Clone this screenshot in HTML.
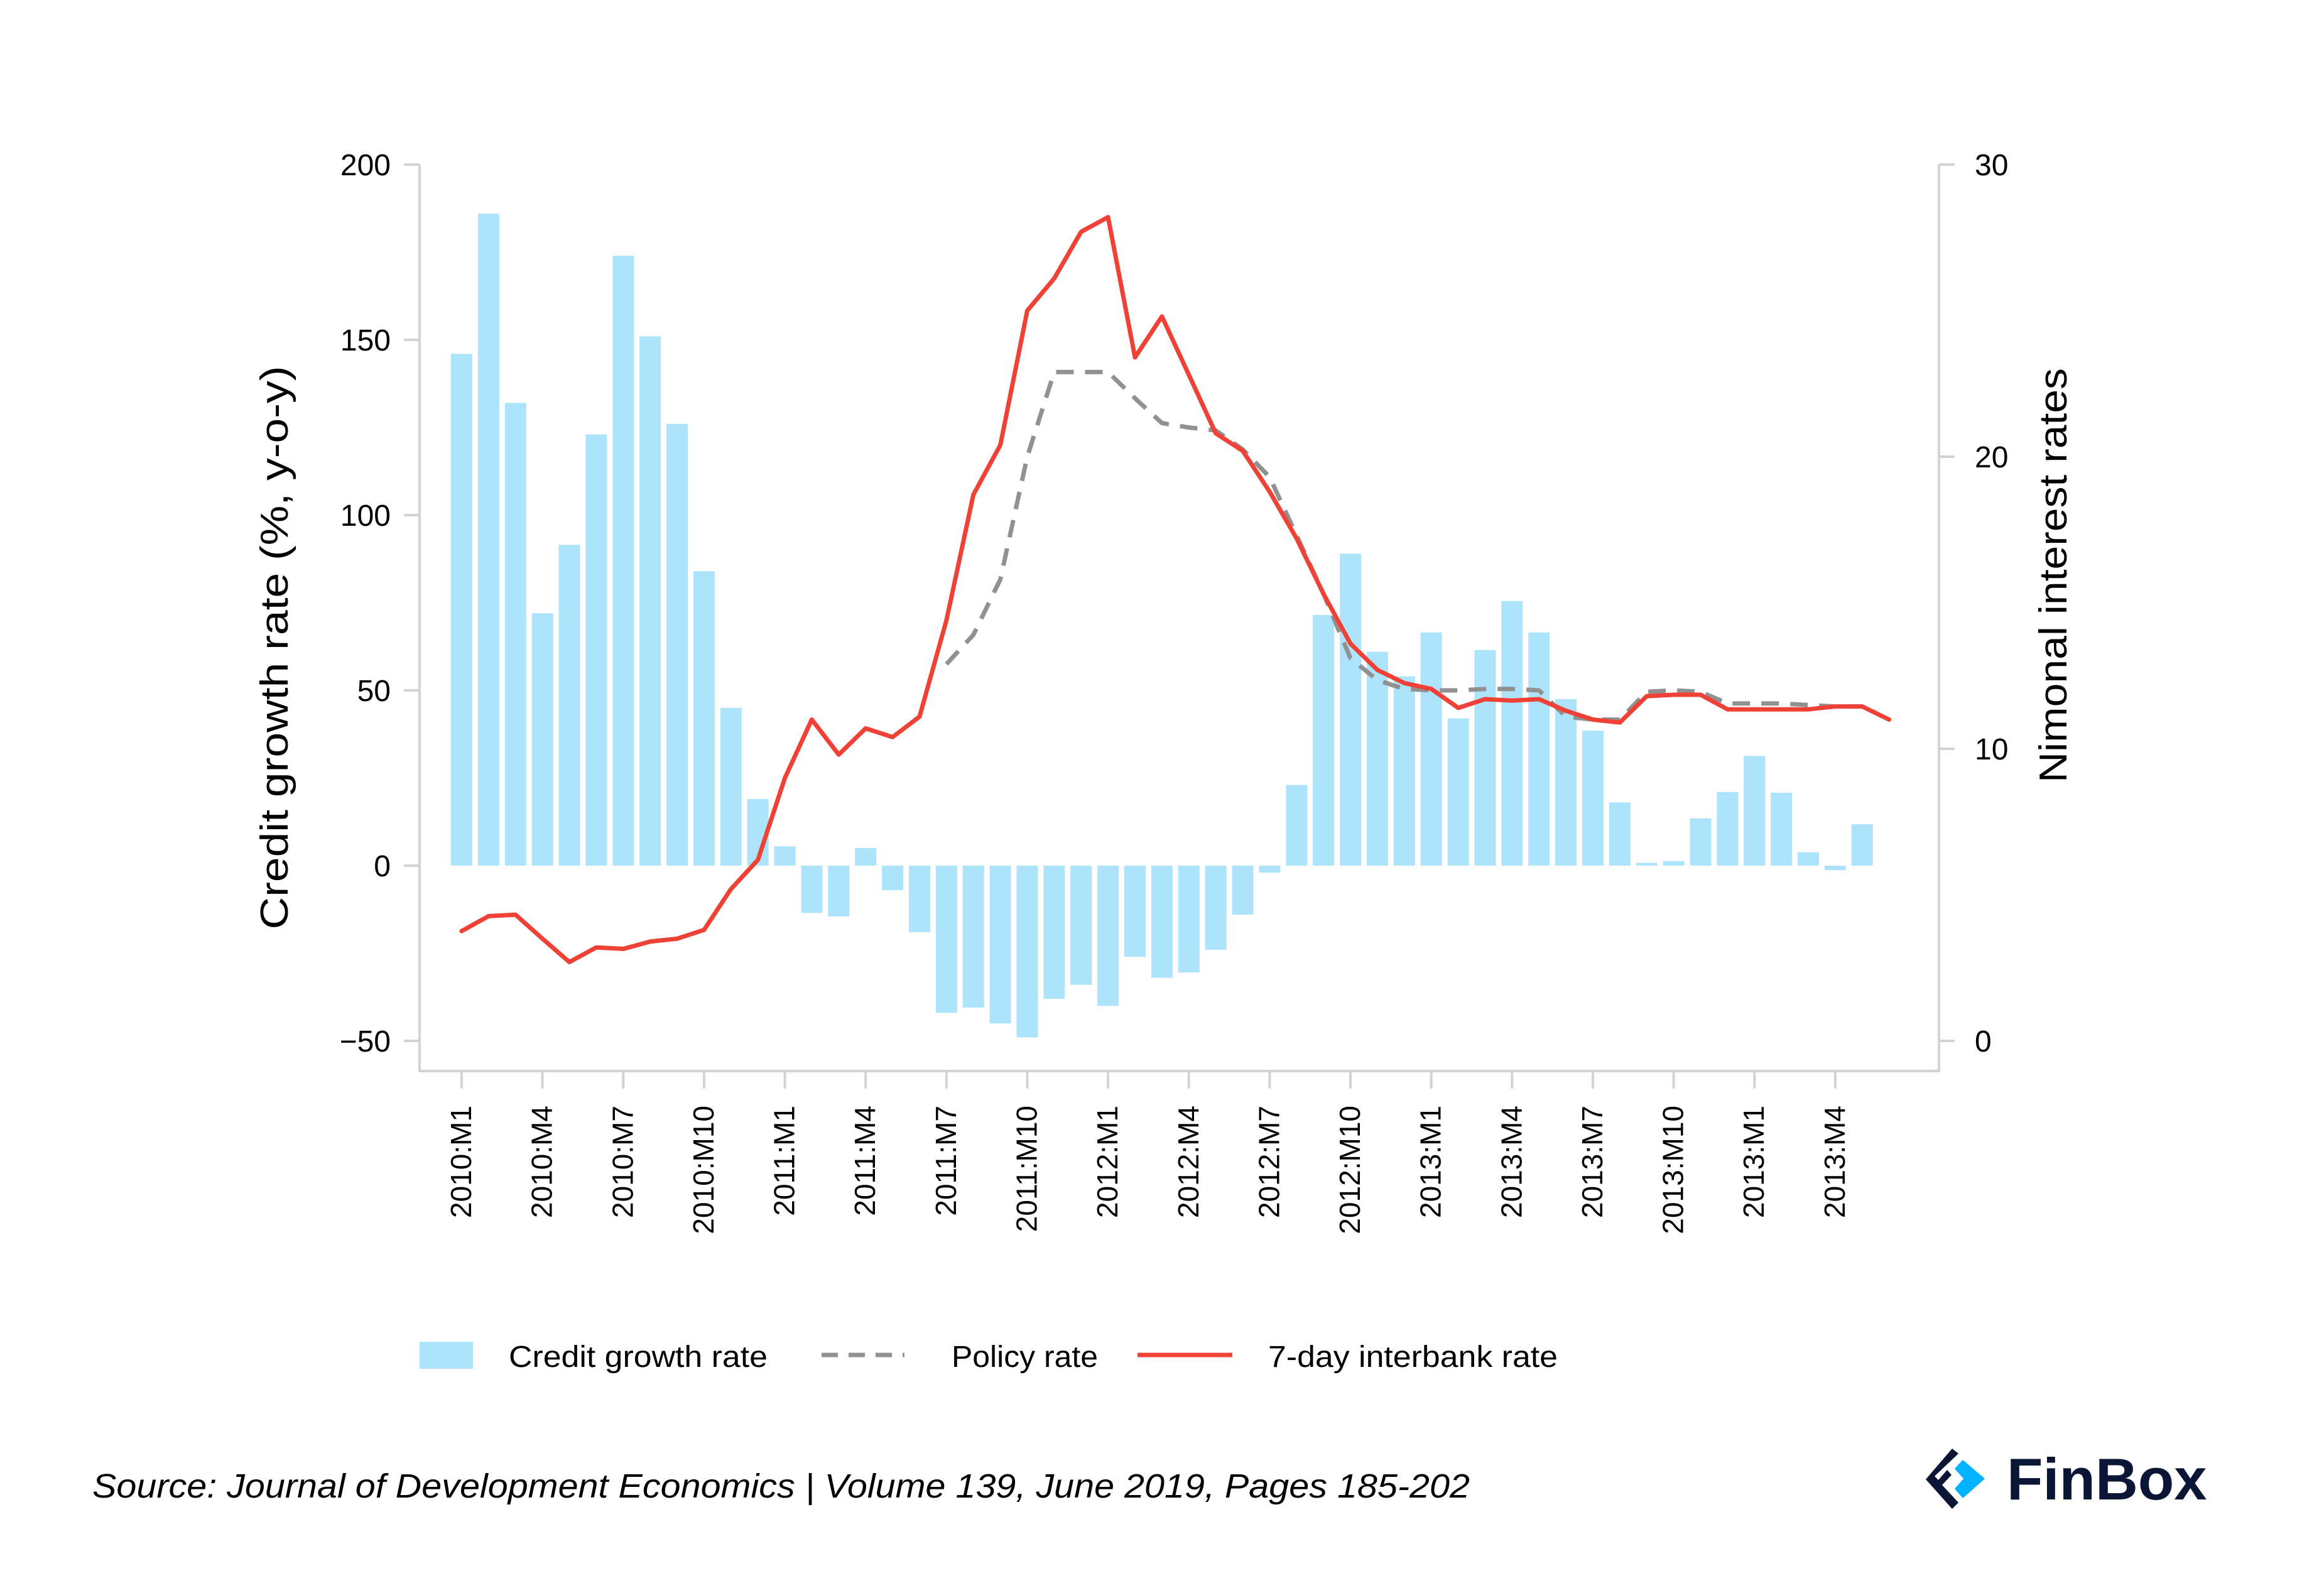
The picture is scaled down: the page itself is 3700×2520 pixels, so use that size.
<!DOCTYPE html>
<html><head><meta charset="utf-8">
<style>
html,body{margin:0;padding:0;background:#fff;}
svg{display:block;font-family:"Liberation Sans",sans-serif;}
</style></head>
<body>
<svg id="chart" width="3700" height="2520" viewBox="0 0 3700 2520" xmlns="http://www.w3.org/2000/svg">
  <g id="axes"></g>
  <g id="bars"></g>
  <g id="lines"></g>
  <text x="0" y="0" transform="translate(458,1031) rotate(-90)" text-anchor="middle" font-size="62" textLength="897" lengthAdjust="spacingAndGlyphs" fill="#000">Credit growth rate (%, y-o-y)</text>
  <text x="0" y="0" transform="translate(3290,916) rotate(-90)" text-anchor="middle" font-size="62" textLength="660" lengthAdjust="spacingAndGlyphs" fill="#000">Nimonal interest rates</text>
  <g>
    <g>
      <rect x="668" y="2136" width="85" height="43" fill="#ade4fc"/>
      <text x="810" y="2176" font-size="48" textLength="412" lengthAdjust="spacingAndGlyphs" fill="#000">Credit growth rate</text>
    </g>
    <g>
      <line x1="1308" y1="2157" x2="1440" y2="2157" stroke="#919191" stroke-width="7" stroke-dasharray="26,17"/>
      <text x="1515" y="2176" font-size="48" textLength="233" lengthAdjust="spacingAndGlyphs" fill="#000">Policy rate</text>
    </g>
    <g>
      <line x1="1811" y1="2157" x2="1962" y2="2157" stroke="#ef4136" stroke-width="7"/>
      <text x="2019" y="2176" font-size="48" textLength="461" lengthAdjust="spacingAndGlyphs" fill="#000">7-day interbank rate</text>
    </g>
  </g>
  <text x="147" y="2384" font-size="54" font-style="italic" textLength="2193" lengthAdjust="spacingAndGlyphs" fill="#000">Source: Journal of Development Economics | Volume 139, June 2019, Pages 185-202</text>
  <g>
    <path d="M3108 2306 L3066 2355 L3108 2402 L3118 2392 L3092 2364 L3107 2348 L3100 2340 L3086 2356 L3080 2350 L3118 2314 Z" fill="#0b1535"/>
    <path d="M3125 2324 L3112 2338 L3126 2354 L3112 2370 L3125 2385 L3160 2354 Z" fill="#00b2ff"/>
    <text x="3195" y="2387" font-size="94" font-weight="bold" fill="#0b1535">FinBox</text>
  </g>
</svg>
<script>
const categories = ["2010:M1","2010:M2","2010:M3","2010:M4","2010:M5","2010:M6","2010:M7","2010:M8","2010:M9","2010:M10","2010:M11","2010:M12",
"2011:M1","2011:M2","2011:M3","2011:M4","2011:M5","2011:M6","2011:M7","2011:M8","2011:M9","2011:M10","2011:M11","2011:M12",
"2012:M1","2012:M2","2012:M3","2012:M4","2012:M5","2012:M6","2012:M7","2012:M8","2012:M9","2012:M10","2012:M11","2012:M12",
"2013:M1","2013:M2","2013:M3","2013:M4","2013:M5","2013:M6","2013:M7","2013:M8","2013:M9","2013:M10","2013:M11","2013:M12",
"2014:M1","2014:M2","2014:M3","2014:M4","2014:M5","2014:M6"];
const creditGrowth = [146,186,132,72,91.5,123,174,151,126,84,45,19,5.5,-13.5,-14.5,5,-7,-19,-42,-40.5,-45,-49,-38,-34,-40,-26,-32,-30.5,-24,-14,-2,23,71.5,89,61,54,66.5,42,61.5,75.5,66.5,47.5,38.5,18,0.8,1.3,13.5,21,31.3,20.8,3.8,-1.3,11.8,null];
const interbankRate = [3.76,4.27,4.32,3.5,2.7,3.2,3.15,3.4,3.5,3.8,5.2,6.2,9.0,11.0,9.8,10.7,10.4,11.1,14.4,18.7,20.4,25.0,26.1,27.7,28.2,23.4,24.8,22.8,20.8,20.2,18.8,17.2,15.3,13.6,12.7,12.25,12.05,11.4,11.7,11.65,11.7,11.3,11.0,10.9,11.8,11.85,11.85,11.35,11.35,11.35,11.35,11.45,11.45,11.0];
const policyRate = [null,null,null,null,null,null,null,null,null,null,null,null,null,null,null,null,null,null,12.9,13.9,15.8,20.0,22.9,22.9,22.9,22.0,21.15,21.0,20.9,20.25,19.3,17.3,15.3,13.1,12.35,12.05,12.0,12.0,12.05,12.05,12.0,11.1,11.0,11.0,11.95,12.0,11.95,11.55,11.55,11.55,11.5,11.45,11.45,null];
const xTickLabels = ["2010:M1","2010:M4","2010:M7","2010:M10","2011:M1","2011:M4","2011:M7","2011:M10","2012:M1","2012:M4","2012:M7","2012:M10","2013:M1","2013:M4","2013:M7","2013:M10","2013:M1","2013:M4"];
const leftTicks = [200,150,100,50,0,-50];
const rightTicks = [30,20,10,0];

const NS = "http://www.w3.org/2000/svg";
const AX_L = 668, AX_R = 3087, AX_B = 1705;
const X0 = 735, STEP = 42.88;
function xPos(i){ return X0 + i*STEP; }
function yLeft(v){ return 1378 - v*5.58; }
function yRight(v){ return 1657 - v*(1395/30); }
function mk(tag, attrs, parent){ const e=document.createElementNS(NS,tag); for(const k in attrs) e.setAttribute(k,attrs[k]); parent.appendChild(e); return e; }

const axes = document.getElementById('axes');
const AXC = "#d3d3d3";
let el;
el = mk('line',{x1:AX_L,y1:262,x2:AX_L,y2:AX_B+2,stroke:AXC,'stroke-width':4},axes);


el = mk('line',{x1:AX_R,y1:262,x2:AX_R,y2:AX_B+2,stroke:AXC,'stroke-width':4},axes);


el = mk('line',{x1:AX_L-2,y1:AX_B,x2:AX_R+2,y2:AX_B,stroke:AXC,'stroke-width':4},axes);



leftTicks.forEach(v=>{
  const y=yLeft(v);
  mk('line',{x1:643,y1:y,x2:AX_L,y2:y,stroke:AXC,'stroke-width':4},axes);
  el = mk('text',{x:622,y:y+17,'text-anchor':'end','font-size':48,fill:'#000'},axes);
  el.textContent = v<0 ? '\u2212'+Math.abs(v) : String(v);
  
  
});
rightTicks.forEach(v=>{
  const y=yRight(v);
  mk('line',{x1:AX_R,y1:y,x2:3112,y2:y,stroke:AXC,'stroke-width':4},axes);
  el = mk('text',{x:3144,y:y+17,'text-anchor':'start','font-size':48,fill:'#000'},axes);
  el.textContent = String(v);
  
  
});
xTickLabels.forEach((lab,k)=>{
  const x=xPos(k*3);
  mk('line',{x1:x,y1:AX_B,x2:x,y2:1733,stroke:AXC,'stroke-width':4},axes);
  el = mk('text',{x:0,y:0,transform:`translate(${x+15},1760) rotate(-90)`,'text-anchor':'end','font-size':46,fill:'#000'},axes);
  el.textContent = lab;
  
  
});

const bars = document.getElementById('bars');
const BW = 34;
creditGrowth.forEach((v,i)=>{
  if(v===null) return;
  const y0=yLeft(0), y1=yLeft(v);
  el = mk('rect',{x:xPos(i)-BW/2,y:Math.min(y0,y1),width:BW,height:Math.max(1,Math.abs(y1-y0)),fill:'#ade4fc'},bars);
  
  
});

const lines = document.getElementById('lines');
function pathFor(arr){
  let d='', started=false;
  arr.forEach((v,i)=>{
    if(v===null){ started=false; return; }
    d += (started?'L':'M') + xPos(i).toFixed(1)+' '+yRight(v).toFixed(1)+' ';
    started=true;
  });
  return d;
}
el = mk('path',{d:pathFor(policyRate),fill:'none',stroke:'#919191','stroke-width':7,'stroke-dasharray':'28,18','stroke-linejoin':'round'},lines);


el = mk('path',{d:pathFor(interbankRate),fill:'none',stroke:'#ef4136','stroke-width':7,'stroke-linejoin':'round','stroke-linecap':'round'},lines);


</script>
</body></html>
